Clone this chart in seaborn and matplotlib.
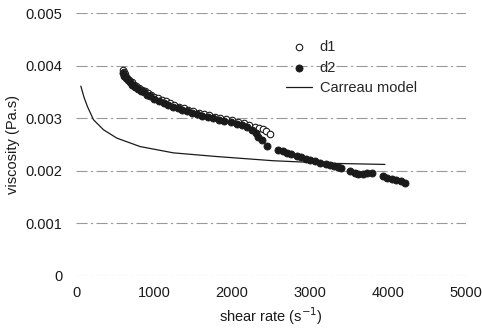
import numpy as np
import pandas as pd
import matplotlib
matplotlib.use("Agg")
import matplotlib.pyplot as plt
import seaborn as sns

# ---------------- DATA ----------------
d1_rate = [600, 610, 620, 630, 650, 680, 710, 740, 770, 800, 840, 880, 920, 960,
           1000, 1050, 1100, 1150, 1200, 1260, 1320, 1380, 1440, 1500, 1570, 1640,
           1700, 1780, 1850, 1920, 2000, 2080, 2150, 2220, 2290, 2350, 2400, 2440, 2490]
d1_visc = [3.92, 3.88, 3.84, 3.80, 3.76, 3.72, 3.68, 3.64, 3.61, 3.58, 3.54, 3.51, 3.47, 3.44,
           3.41, 3.38, 3.35, 3.32, 3.29, 3.25, 3.22, 3.19, 3.16, 3.13, 3.10, 3.08,
           3.06, 3.03, 3.01, 2.99, 2.96, 2.93, 2.90, 2.87, 2.84, 2.82, 2.79, 2.76, 2.70]

d2_rate = [600, 615, 635, 660, 690, 720, 750, 790, 830, 870, 910, 950, 1000, 1060,
           1120, 1180, 1240, 1300, 1360, 1420, 1480, 1550, 1620, 1690, 1760, 1830,
           1900, 1980, 2060, 2130, 2190, 2250, 2300, 2330, 2380, 2445, 2594, 2650,
           2700, 2760, 2829, 2880, 2950, 3000, 3060, 3128, 3200, 3260, 3310, 3360,
           3400, 3513, 3570, 3620, 3680, 3727, 3790, 3940, 3990, 4047, 4100, 4160, 4218]
d2_visc = [3.86, 3.81, 3.77, 3.72, 3.68, 3.64, 3.60, 3.56, 3.52, 3.49, 3.45, 3.42, 3.37, 3.33,
           3.29, 3.26, 3.22, 3.19, 3.15, 3.13, 3.10, 3.07, 3.04, 3.02, 3.00, 2.97,
           2.95, 2.92, 2.89, 2.87, 2.83, 2.78, 2.71, 2.64, 2.58, 2.47, 2.40, 2.37,
           2.34, 2.31, 2.28, 2.26, 2.22, 2.20, 2.18, 2.15, 2.13, 2.11, 2.09, 2.07,
           2.05, 1.99, 1.96, 1.94, 1.94, 1.95, 1.96, 1.90, 1.87, 1.84, 1.82, 1.80, 1.77]

carreau_rate = [60, 100, 145, 222, 350, 522, 820, 1247, 1803, 2530, 3300, 3960]
carreau_visc = [3.61, 3.40, 3.22, 2.97, 2.78, 2.62, 2.46, 2.34, 2.27, 2.19, 2.14, 2.12]

x_ticks = [0, 1000, 2000, 3000, 4000, 5000]
y_ticks = [0, 0.001, 0.002, 0.003, 0.004, 0.005]
y_labels = ["0", "0.001", "0.002", "0.003", "0.004", "0.005"]

d1 = pd.DataFrame({"rate": d1_rate, "visc": np.array(d1_visc) / 1000})
d2 = pd.DataFrame({"rate": d2_rate, "visc": np.array(d2_visc) / 1000})
carreau = pd.DataFrame({"rate": carreau_rate, "visc": np.array(carreau_visc) / 1000})

# ---------------- PLOT ----------------
sns.set_style("white")
plt.rcParams["font.family"] = ["Liberation Sans", "DejaVu Sans"]
ink = "#1a1a1a"

fig = plt.figure(figsize=(4.82, 3.34), dpi=100)
ax = fig.add_axes([0.158, 0.174, 0.809, 0.787])

sns.lineplot(data=carreau, x="rate", y="visc", ax=ax, color=ink, lw=0.9,
             label="Carreau model", estimator=None, sort=False)
sns.scatterplot(data=d1, x="rate", y="visc", ax=ax, facecolor="white", s=22,
                edgecolor=ink, linewidth=0.8, label="d1", zorder=3)
sns.scatterplot(data=d2, x="rate", y="visc", ax=ax, color=ink, s=26,
                edgecolor=ink, linewidth=0.6, label="d2", zorder=4)

ax.set_xlim(0, 5000)
ax.set_ylim(0, 0.005)
ax.set_xticks(x_ticks)
ax.set_yticks(y_ticks)
ax.set_yticklabels(y_labels)
ax.tick_params(length=0, labelsize=10.5, labelcolor=ink)
ax.tick_params(axis="y", pad=10)
ax.tick_params(axis="x", pad=7)

ax.yaxis.grid(True, color="#999999", lw=0.8, linestyle=(0, (10, 3, 2, 3)))
ax.xaxis.grid(False)
for s in ax.spines.values():
    s.set_visible(False)

ax.set_xlabel("shear rate (s$^{-1}$)", fontsize=10.5, color=ink)
ax.set_ylabel("viscosity (Pa.s)", fontsize=10.5, color=ink)

handles, labels = ax.get_legend_handles_labels()
order = [labels.index("d1"), labels.index("d2"), labels.index("Carreau model")]
ax.legend([handles[i] for i in order], [labels[i] for i in order],
          loc="upper left", bbox_to_anchor=(0.52, 0.925), frameon=False,
          fontsize=10.5, handlelength=1.8, labelspacing=0.45, borderpad=0,
          handletextpad=0.5)

fig.savefig("out.png", dpi=100)
